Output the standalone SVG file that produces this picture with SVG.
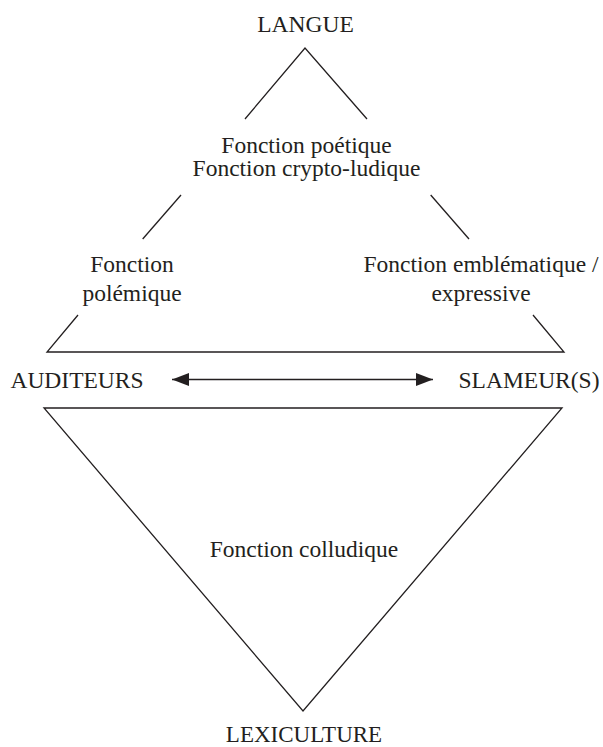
<svg xmlns="http://www.w3.org/2000/svg" width="603" height="747" viewBox="0 0 603 747">
<style>
text{font-family:"Liberation Serif","Times New Roman",serif;font-size:23.5px;fill:#231f20;text-anchor:middle}
.ln{fill:none;stroke:#231f20;stroke-width:1.3;stroke-linejoin:miter}
</style>
<defs>
<marker id="ah" viewBox="0 0 17 13" refX="17" refY="6.5" markerWidth="17" markerHeight="13" markerUnits="userSpaceOnUse" orient="auto-start-reverse">
<path d="M0,0 L17,6.5 L0,13 Z" fill="#231f20"/>
</marker>
</defs>
<rect width="603" height="747" fill="#fff"/>
<g id="connectors">
<path class="ln" d="M245,119 L305,48 L367,119"/>
<path class="ln" d="M181,195 L142.7,239"/>
<path class="ln" d="M430.7,195 L469,239"/>
<path class="ln" d="M78,315 L47,352 L564,352 L533,315"/>
<path class="ln" d="M44,408 L562,408 L303,711 Z"/>
<line class="ln" x1="172" y1="379.5" x2="433" y2="379.5" marker-start="url(#ah)" marker-end="url(#ah)"/>
</g>
<g id="langue"><text x="305.5" y="32">LANGUE</text></g>
<g id="poetique"><text x="306.5" y="152.5">Fonction poétique</text><text x="306.5" y="176">Fonction crypto-ludique</text></g>
<g id="polemique"><text x="132" y="272">Fonction</text><text x="132" y="301">polémique</text></g>
<g id="emblematique"><text x="481" y="272">Fonction emblématique /</text><text x="481" y="301">expressive</text></g>
<g id="auditeurs"><text x="77" y="388">AUDITEURS</text></g>
<g id="slameurs"><text x="529" y="388">SLAMEUR(S)</text></g>
<g id="colludique"><text x="304" y="557">Fonction colludique</text></g>
<g id="lexiculture"><text x="304" y="742" style="font-size:23px">LEXICULTURE</text></g>
</svg>
